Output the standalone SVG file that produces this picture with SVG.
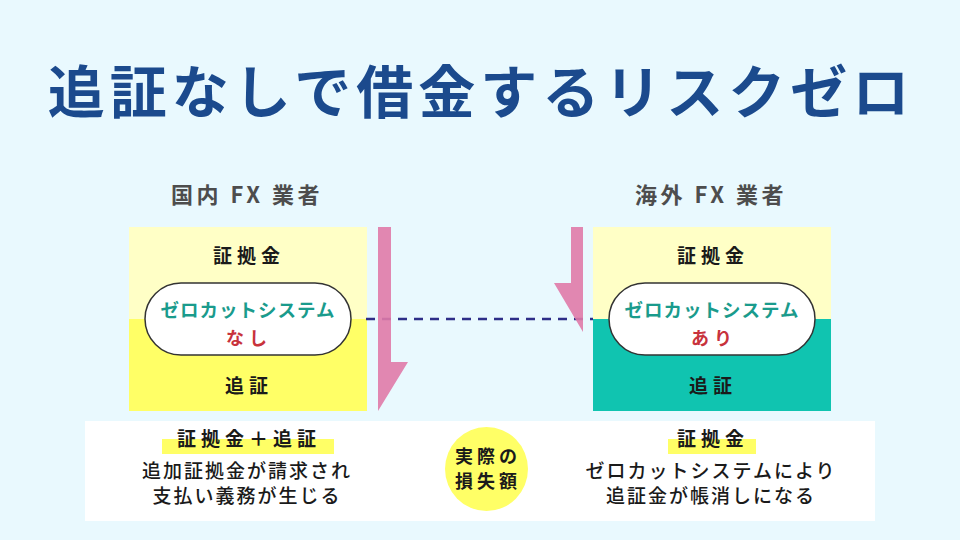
<svg xmlns="http://www.w3.org/2000/svg" width="960" height="540" viewBox="0 0 960 540">
<style>
text{font-family:"Noto Sans CJK JP","Noto Sans",sans-serif;font-weight:bold;text-anchor:middle}
.title{font-size:57px;fill:#1b4a8d;letter-spacing:5px}
.hdr{font-size:22px;fill:#4d4d4d;letter-spacing:3.5px;font-weight:bold}
.lbl{font-size:19px;fill:#1a1a1a;letter-spacing:5px}
.zc{font-size:18.5px;fill:#1a9b8c;letter-spacing:1px}
.st{font-size:18px;fill:#c8323c;letter-spacing:5px}
.body{font-size:19px;fill:#1a1a1a;letter-spacing:2px;font-weight:500}
.pill{fill:#ffffff;stroke:#333333;stroke-width:1.5}
.arrow{fill:#e07aa8;opacity:0.9}
</style>
<rect width="960" height="540" fill="#e9f9fe"/>
<text class="title" x="481" y="113">追証なしで借金するリスクゼロ</text>

<g id="domestic">
<text class="hdr" x="247" y="203">国内 FX 業者</text>
<rect x="129" y="227" width="238" height="92" fill="#ffffc6"/>
<rect x="129" y="319" width="238" height="92" fill="#ffff66"/>
<text class="lbl" x="249" y="263">証拠金</text>
<text class="lbl" x="249" y="393">追証</text>
<g id="domestic-zerocut">
<rect class="pill" x="145" y="283" width="206" height="72" rx="36"/>
<text class="zc" x="248" y="317">ゼロカットシステム</text>
<text class="st" x="249" y="345">なし</text>
</g>
</g>

<g id="overseas">
<text class="hdr" x="711" y="203">海外 FX 業者</text>
<rect x="593" y="227" width="238" height="92" fill="#ffffc6"/>
<rect x="593" y="319" width="238" height="92" fill="#10c4b0"/>
<text class="lbl" x="713" y="263">証拠金</text>
<text class="lbl" x="713" y="393">追証</text>
<g id="overseas-zerocut">
<rect class="pill" x="609" y="283" width="206" height="72" rx="36"/>
<text class="zc" x="712" y="317">ゼロカットシステム</text>
<text class="st" x="714" y="345">あり</text>
</g>
</g>

<g id="connectors">
<line x1="366" y1="319" x2="593" y2="319" stroke="#2e2e88" stroke-width="2.5" stroke-dasharray="9 7"/>
<polygon class="arrow" points="378,227 391,227 391,362 408,362 378,411"/>
<polygon class="arrow" points="571,227 583,227 583,332 554,283 571,283"/>
</g>

<g id="summary">
<rect x="85" y="421" width="790" height="100" fill="#ffffff"/>
<rect x="162" y="439" width="172" height="15" fill="#ffff66"/>
<rect x="668" y="439" width="88" height="15" fill="#ffff66"/>
<text class="lbl" x="249" y="446">証拠金＋追証</text>
<text class="body" x="247" y="478">追加証拠金が請求され</text>
<text class="body" x="247" y="503">支払い義務が生じる</text>
<text class="lbl" x="713" y="446">証拠金</text>
<text class="body" x="711" y="478">ゼロカットシステムにより</text>
<text class="body" x="711" y="503">追証金が帳消しになる</text>
<g id="actual-loss">
<ellipse cx="486.5" cy="469" rx="41.5" ry="42" fill="#ffff66"/>
<text class="lbl" x="488" y="463" style="font-size:18px;letter-spacing:4px">実際の</text>
<text class="lbl" x="488" y="488" style="font-size:18px;letter-spacing:4px">損失額</text>
</g>
</g>
</svg>
